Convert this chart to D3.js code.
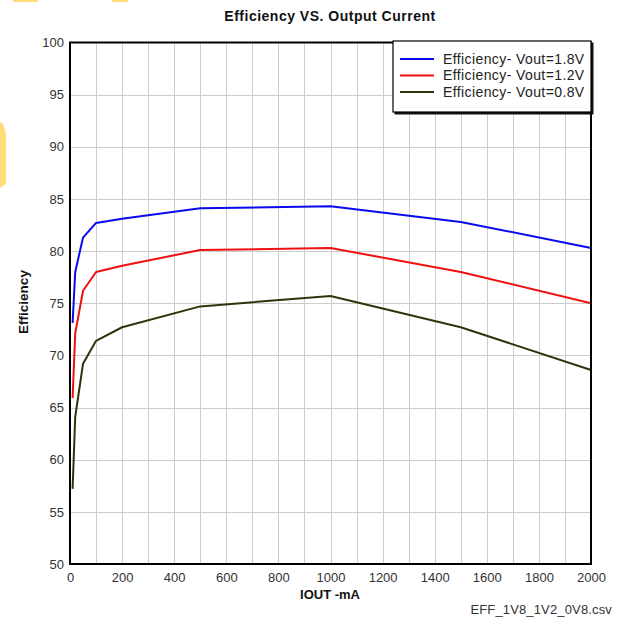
<!DOCTYPE html>
<html>
<head>
<meta charset="utf-8">
<script src="https://cdn.jsdelivr.net/npm/d3@7"></script>
<style>
  html, body { margin: 0; padding: 0; background: #fff; }
  svg { display: block; font-family: Arial, "Liberation Sans", sans-serif; }
</style>
</head>
<body>
<svg id="chart" width="623" height="620"></svg>
<script>
// Output current (mA) sample points
const iout = [10, 20, 50, 100, 200, 500, 1000, 1500, 2000];

// Efficiency (%) per output voltage
const eff18 = [73.1, 78.0, 81.3, 82.7, 83.1, 84.1, 84.3, 82.8, 80.3];
const eff12 = [65.9, 72.1, 76.2, 78.0, 78.6, 80.1, 80.3, 78.0, 75.0];
const eff08 = [57.2, 64.1, 69.2, 71.4, 72.7, 74.7, 75.7, 72.7, 68.6];

const seriesNames = ["Efficiency- Vout=1.8V", "Efficiency- Vout=1.2V", "Efficiency- Vout=0.8V"];
const seriesColors = ["#0a0af0", "#f01010", "#33330a"];

const xTicks = [0, 200, 400, 600, 800, 1000, 1200, 1400, 1600, 1800, 2000];
const yTicks = [50, 55, 60, 65, 70, 75, 80, 85, 90, 95, 100];

const svg = d3.select("#chart");

// Yellow marks along the top-left edge
svg.append("rect").attr("x", 13).attr("y", 0).attr("width", 25).attr("height", 2).attr("fill", "#ffdc78");
svg.append("rect").attr("x", 112).attr("y", 0).attr("width", 16).attr("height", 2).attr("fill", "#ffdc78");
svg.append("path")
  .attr("d", "M0,122 L3,124 L6,133 L6,184 L0,188 Z")
  .attr("fill", "#ffdc78");

const x = d3.scaleLinear().domain([0, 2000]).range([70, 591]);
const y = d3.scaleLinear().domain([50, 100]).range([564, 42.5]);

// Grid
const grid = svg.append("g").attr("stroke", "#cccccc").attr("stroke-width", 1);
grid.selectAll("line.v").data(d3.range(100, 2000, 100)).join("line")
  .attr("x1", d => Math.round(x(d)) + 0.5).attr("x2", d => Math.round(x(d)) + 0.5)
  .attr("y1", y(100)).attr("y2", y(50));
grid.selectAll("line.h").data(yTicks.slice(1, -1)).join("line")
  .attr("y1", d => Math.round(y(d)) + 0.5).attr("y2", d => Math.round(y(d)) + 0.5)
  .attr("x1", x(0)).attr("x2", x(2000));

// Axes (labels only; frame drawn separately)
const xAxis = svg.append("g").attr("transform", `translate(0,${y(50)})`)
  .call(d3.axisBottom(x).tickValues(xTicks).tickSize(0).tickPadding(9).tickFormat(d3.format("d")));
const yAxis = svg.append("g").attr("transform", `translate(${x(0)},0)`)
  .call(d3.axisLeft(y).tickValues(yTicks).tickSize(0).tickPadding(6).tickFormat(d3.format("d")));
[xAxis, yAxis].forEach(a => {
  a.select(".domain").remove();
  a.selectAll("text").attr("fill", "#333").style("font-size", "13px")
    .style("font-family", "Arial, 'Liberation Sans', sans-serif");
});

// Series lines
const line = d3.line().x((d, i) => x(iout[i])).y(d => y(d));
[eff18, eff12, eff08].forEach((vals, k) => {
  svg.append("path").datum(vals)
    .attr("d", line)
    .attr("fill", "none")
    .attr("stroke", seriesColors[k])
    .attr("stroke-width", 2)
    .attr("stroke-linejoin", "round");
});

// Plot frame
svg.append("rect")
  .attr("x", x(0)).attr("y", y(100))
  .attr("width", x(2000) - x(0)).attr("height", y(50) - y(100))
  .attr("fill", "none").attr("stroke", "#000").attr("stroke-width", 2);

// Legend
const lg = svg.append("g").attr("transform", "translate(393,41)");
lg.append("rect").attr("x", 1.5).attr("y", 1.5).attr("width", 199).attr("height", 72).attr("fill", "#111");
lg.append("rect").attr("x", 0).attr("y", 0).attr("width", 198).attr("height", 71)
  .attr("fill", "#fff").attr("stroke", "#000").attr("stroke-width", 1.2);
seriesNames.forEach((name, k) => {
  const ly = 18 + k * 16.5;
  lg.append("line").attr("x1", 7).attr("x2", 41).attr("y1", ly).attr("y2", ly)
    .attr("stroke", seriesColors[k]).attr("stroke-width", 2);
  lg.append("text").attr("x", 50).attr("y", ly).attr("dy", "0.35em")
    .attr("fill", "#222").style("font-size", "14px").style("letter-spacing", "0.4px").text(name);
});

// Titles
svg.append("text").attr("x", 330).attr("y", 21).attr("text-anchor", "middle")
  .style("font-size", "14px").style("letter-spacing", "0.5px").style("font-weight", "bold").attr("fill", "#111")
  .text("Efficiency VS. Output Current");
svg.append("text").attr("transform", "translate(28,302) rotate(-90)").attr("text-anchor", "middle")
  .style("font-size", "13.5px").style("font-weight", "bold").attr("fill", "#111")
  .text("Efficiency");
svg.append("text").attr("x", 330).attr("y", 599).attr("text-anchor", "middle")
  .style("font-size", "13px").style("font-weight", "bold").attr("fill", "#111")
  .text("IOUT -mA");
svg.append("text").attr("x", 612).attr("y", 614).attr("text-anchor", "end")
  .style("font-size", "13px").style("letter-spacing", "0.15px").attr("fill", "#333")
  .text("EFF_1V8_1V2_0V8.csv");
</script>
</body>
</html>
